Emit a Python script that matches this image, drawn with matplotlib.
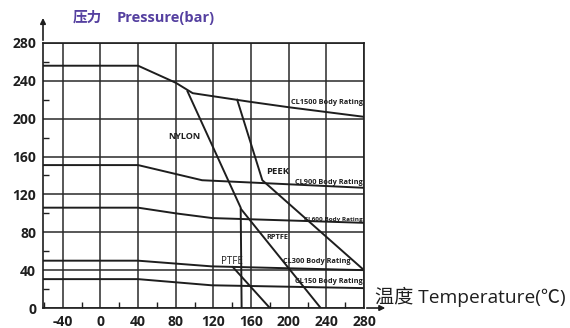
import matplotlib
matplotlib.use('Agg')
import matplotlib.pyplot as plt
from matplotlib.ticker import MultipleLocator

plt.rcParams['font.family'] = ['Open Sans', 'Noto Sans CJK SC', 'DejaVu Sans']
plt.rcParams['axes.unicode_minus'] = False

# body ratings (temperature degC, pressure bar)
cl1500_t = [-61, 40, 80, 98, 158, 201, 280]
cl1500_p = [256, 256, 238, 227, 218, 212, 202]
cl900_t = [-61, 40, 108, 280]
cl900_p = [151, 151, 135, 127]
cl600_t = [-61, 40, 80, 119, 280]
cl600_p = [106, 106, 100, 95, 90]
cl300_t = [-61, 40, 118, 280]
cl300_p = [50, 50, 44, 40]
cl150_t = [-61, 40, 118, 280]
cl150_p = [30.5, 30.5, 24, 21]

# seat materials
nylon_t = [92, 149, 150]
nylon_p = [230, 106, 0]
peek_t = [145, 172, 280]
peek_p = [221, 135, 40]
rptfe_t = [149, 234]
rptfe_p = [105, 0]
ptfe_t = [140, 180]
ptfe_p = [44, 0]

x_ticks = list(range(-40, 281, 40))
y_ticks = list(range(0, 281, 40))

INK = '#1e1e1e'

fig = plt.figure(figsize=(5.7, 3.28), dpi=100)
ax = fig.add_axes([43 / 570, 1 - 308 / 328, (364 - 43) / 570, (308 - 43) / 328])

for t, p in [(cl1500_t, cl1500_p), (cl900_t, cl900_p), (cl600_t, cl600_p),
             (cl300_t, cl300_p), (cl150_t, cl150_p), (nylon_t, nylon_p),
             (peek_t, peek_p), (rptfe_t, rptfe_p), (ptfe_t, ptfe_p)]:
    ax.plot(t, p, color=INK, lw=1.4, solid_capstyle='butt', zorder=3)

ax.set_xlim(-61, 280)
ax.set_ylim(0, 280)
ax.set_xticks(x_ticks)
ax.set_yticks(y_ticks)
ax.xaxis.set_minor_locator(MultipleLocator(20))
ax.yaxis.set_minor_locator(MultipleLocator(20))
ax.tick_params(which='major', length=0, pad=5, labelsize=10, labelcolor=INK)
ax.tick_params(which='minor', direction='in', length=4, width=1, color=INK)
for lab in ax.get_xticklabels() + ax.get_yticklabels():
    lab.set_fontweight('bold')
ax.grid(True, which='major', color='#2a2a2a', lw=1.1)
for side in ax.spines.values():
    side.set_color(INK)
    side.set_linewidth(1.2)

# axis arrows
ax.annotate('', xy=(0, 1.105), xytext=(0, 1.0), xycoords='axes fraction',
            arrowprops=dict(arrowstyle='-|>', color=INK, lw=1.2,
                            mutation_scale=8), annotation_clip=False)
ax.annotate('', xy=(1.075, 0), xytext=(1.0, 0), xycoords='axes fraction',
            arrowprops=dict(arrowstyle='-|>', color=INK, lw=1.2,
                            mutation_scale=8), annotation_clip=False)

fig.text(73 / 570, 1 - 18 / 328, '压力', color='#5540a0', fontsize=10.5,
         fontweight='bold', va='center', ha='left')
fig.text(117 / 570, 1 - 18 / 328, 'Pressure(bar)', color='#5540a0',
         fontsize=10.5, fontweight='bold', va='center', ha='left')
fig.text(375 / 570, 1 - 297 / 328, '温度 Temperature(℃)', color=INK,
         fontsize=13.8, va='center', ha='left')

# curve labels
small = dict(color=INK, fontsize=5.3, fontweight='bold', va='center',
             zorder=4)
ax.text(89, 181, 'NYLON', color=INK, fontsize=6.5, fontweight='bold',
        ha='center', va='center', zorder=4)
ax.text(188, 144, 'PEEK', color=INK, fontsize=6.8, fontweight='bold',
        ha='center', va='center', zorder=4)
ax.text(188, 74, 'RPTFE', color=INK, fontsize=5.3, fontweight='bold',
        ha='center', va='center', zorder=4)
ax.text(140, 49, 'PTFE', color=INK, fontsize=7, ha='center',
        va='center', zorder=4)
ax.text(279, 217, 'CL1500 Body Rating', ha='right', **small)
ax.text(279, 133, 'CL900 Body Rating', ha='right', **small)
ax.text(279, 93, 'CL600 Body Rating', ha='right', fontsize=4.6,
        fontweight='bold', va='center', color=INK, zorder=4)
ax.text(230, 49, 'CL300 Body Rating', ha='center', **small)
ax.text(279, 27.5, 'CL150 Body Rating', ha='right', **small)

fig.savefig('out.png', dpi=100)
